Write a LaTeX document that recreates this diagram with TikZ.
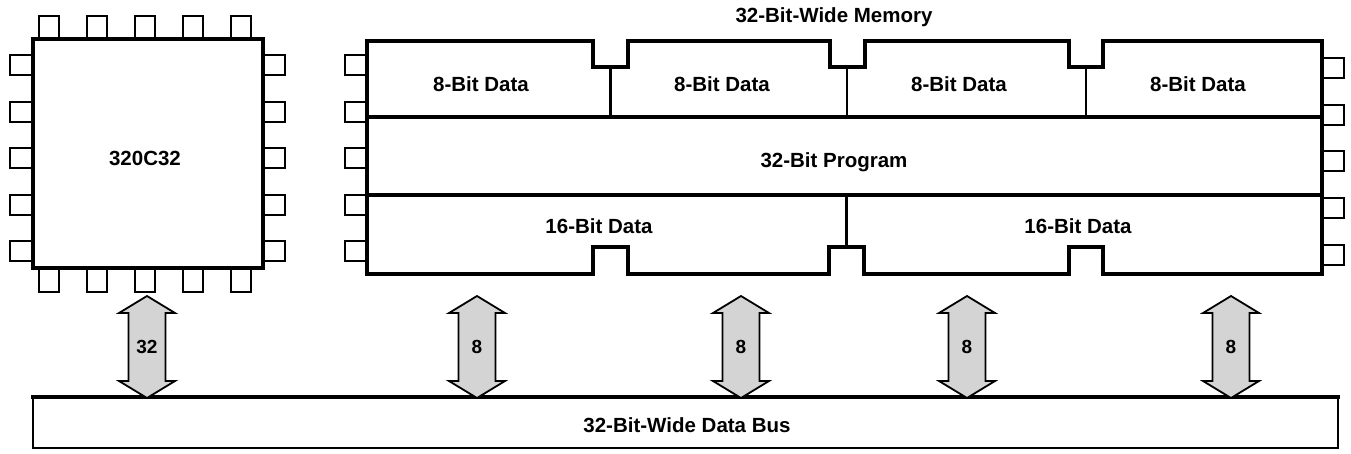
\documentclass[tikz,border=0pt]{standalone}
\usepackage{fontspec}
\setmainfont{Liberation Sans}
\begin{document}
\begin{tikzpicture}[x=1pt,y=-1pt,
  lbl/.style={font=\bfseries\fontsize{20.5}{24}\selectfont, inner sep=0pt},
  pin/.style={draw, line width=1.4pt, fill=white},
  thickline/.style={line width=3.4pt},
  divline/.style={line width=2.6pt},
  chipbox/.style={draw, line width=3.6pt, fill=white, minimum width=230pt, minimum height=229pt, inner sep=0pt, font=\bfseries\fontsize{20.5}{24}\selectfont},
  busbox/.style={draw, line width=2pt, minimum width=1305pt, minimum height=50pt, inner sep=0pt},
  busarrowfill/.style={draw, line width=1.8pt, fill=black!17, line join=miter},
]
\useasboundingbox (0,0) rectangle (1351,453);

% ---------- processor chip pins ----------
\foreach \px in {39,87,135,183,231} {
  \draw[pin] (\px,16) rectangle ++(20,23);
  \draw[pin] (\px,268) rectangle ++(20,24);
}
\foreach \py in {55,102,148,195,241} {
  \draw[pin] (10,\py) rectangle ++(23,20);
  \draw[pin] (263,\py) rectangle ++(22,20);
}
\node[chipbox] (chip) at (148,153.5) {};
\node[lbl] (chiplbl) at (145,158) {320C32};

% ---------- memory pins ----------
\foreach \py in {55,102,148,195,241} {
  \draw[pin] (345,\py) rectangle ++(22,20);
}
\foreach \py in {58,105,151,198,245} {
  \draw[pin] (1322,\py) rectangle ++(22,20);
}

% ---------- memory outline ----------
\draw[thickline, fill=white, line join=miter]
  (367,41) -- (593,41) -- (593,67) -- (628,67) -- (628,41)
  -- (830,41) -- (830,67) -- (865,67) -- (865,41)
  -- (1069,41) -- (1069,67) -- (1103,67) -- (1103,41)
  -- (1322,41) -- (1322,274)
  -- (1103,274) -- (1103,247) -- (1069,247) -- (1069,274)
  -- (864,274) -- (864,247) -- (829,247) -- (829,274)
  -- (628,274) -- (628,247) -- (593,247) -- (593,274)
  -- (367,274) -- cycle;
\draw[thickline] (367,117) -- (1322,117);
\draw[thickline] (367,195) -- (1322,195);
\draw[divline] (610.5,67) -- (610.5,117);
\draw[divline] (847,67) -- (847,117);
\draw[divline] (1086,67) -- (1086,117);
\draw[divline] (846.5,195) -- (846.5,247);

\node[lbl] (memtitle) at (834,17) {32-Bit-Wide Memory};
\node[lbl] (d8a) at (481,84) {8-Bit Data};
\node[lbl] (d8b) at (722,84) {8-Bit Data};
\node[lbl] (d8c) at (959,84) {8-Bit Data};
\node[lbl] (d8d) at (1198,84) {8-Bit Data};
\node[lbl] (prog) at (834,162) {32-Bit Program};
\node[lbl] (d16a) at (599,226) {16-Bit Data};
\node[lbl] (d16b) at (1078,226) {16-Bit Data};

% ---------- data bus ----------
\node[busbox] (bus) at (685.5,423) {};
\draw[line width=3.6pt] ([xshift=-1pt]bus.north west) -- ([xshift=1pt]bus.north east);
\node[lbl] (buslbl) at (687,425) {32-Bit-Wide Data Bus};

% ---------- double arrows ----------
\newcommand\busarrow[3]{%
  \coordinate (#3t) at (#1,296);
  \coordinate (#3b) at (#1,398);
  \path[busarrowfill] (#3t) -- ++(28,17) -- ++(-9.5,0) -- ++(0,68) -- ++(9.5,0)
    -- (#3b) -- ++(-28,-17) -- ++(9.5,0) -- ++(0,-68) -- ++(-9.5,0) -- cycle;
  \node[lbl, font=\bfseries\fontsize{19}{22}\selectfont] (#3l) at (#1,347) {#2};
}
\busarrow{147}{32}{arrA}
\busarrow{477}{8}{arrB}
\busarrow{741}{8}{arrC}
\busarrow{967}{8}{arrD}
\busarrow{1231}{8}{arrE}
\end{tikzpicture}
\end{document}
